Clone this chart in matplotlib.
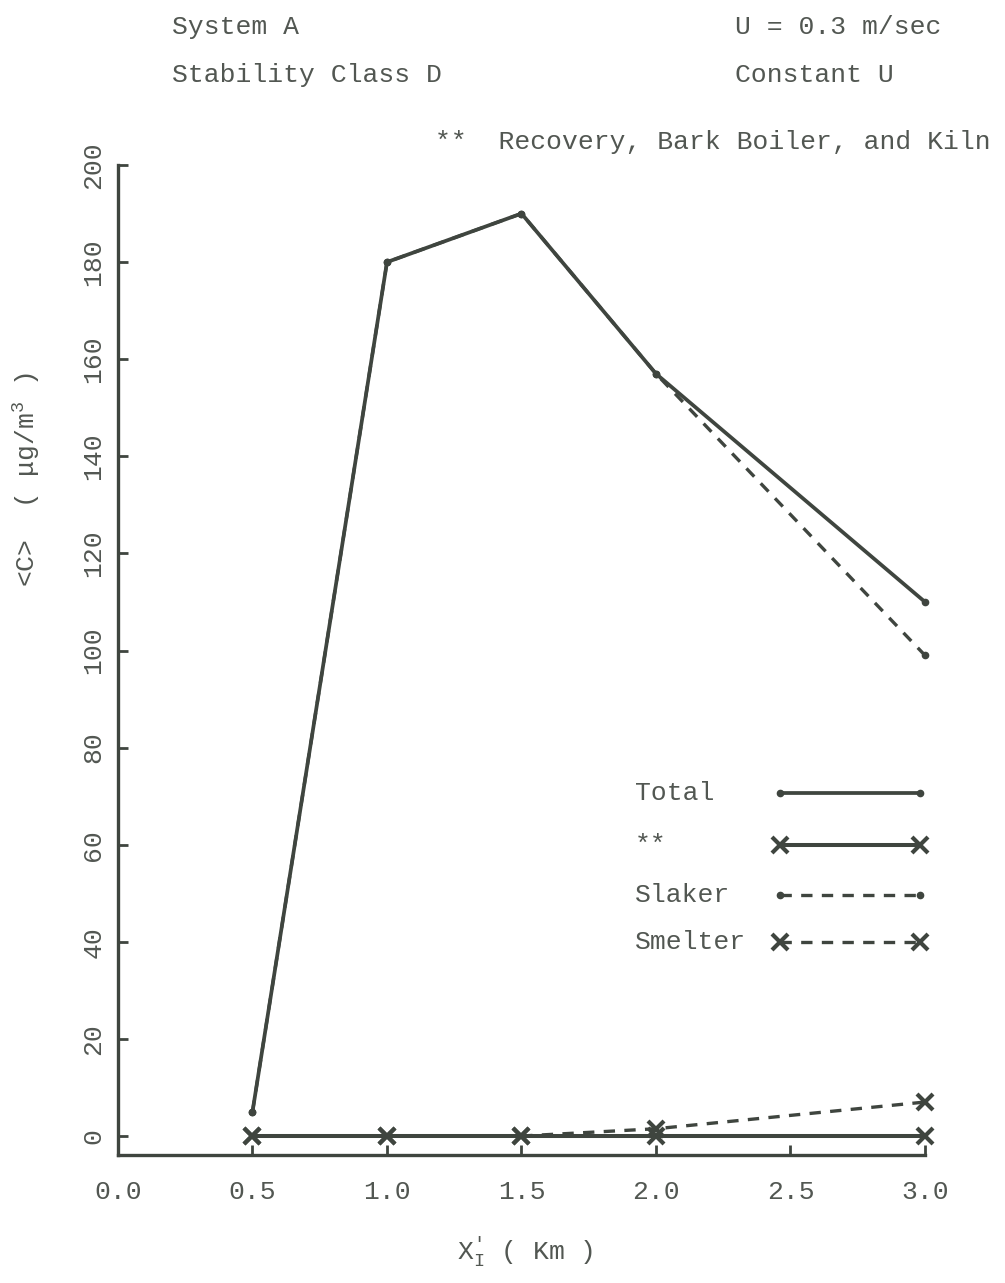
import matplotlib

matplotlib.use("Agg")

import matplotlib.pyplot as plt

plt.rcParams["font.family"] = ["Liberation Mono", "DejaVu Sans Mono"]
plt.rcParams["mathtext.fontset"] = "custom"
plt.rcParams["mathtext.rm"] = "Liberation Mono"
plt.rcParams["mathtext.it"] = "Liberation Mono"

# downwind distance (km) and concentrations (ug/m^3)
distance_km = [0.5, 1.0, 1.5, 2.0, 3.0]
total = [5, 180, 190, 157, 110]
recovery_bark_kiln = [0, 0, 0, 0, 0]
slaker = [5, 180, 190, 157, 99]
smelter = [0, 0, 0, 1.5, 7]

x_ticks = [0.0, 0.5, 1.0, 1.5, 2.0, 2.5, 3.0]
y_ticks = [0, 20, 40, 60, 80, 100, 120, 140, 160, 180, 200]

INK = "#3f453f"
TEXT = "#525752"
FS = 19

fig = plt.figure(figsize=(10.05, 12.83), dpi=100)
ax = fig.add_axes([0.1174, 0.0998, 0.803, 0.7716])

dot_kw = dict(marker="o", markersize=4.5)
cross_kw = dict(marker="x", markersize=11, markeredgewidth=3)
dash = (3.4, 2.8)

# (label, values, style, zorder) - solid lines sit above the dashed ones
series = [
    ("Total", total, dict(linestyle="-", linewidth=2.7, **dot_kw), 4),
    ("**", recovery_bark_kiln, dict(linestyle="-", linewidth=2.9, **cross_kw), 4),
    ("Slaker", slaker, dict(linestyle="--", linewidth=2.4, dashes=dash, **dot_kw), 2),
    ("Smelter", smelter, dict(linestyle="--", linewidth=2.4, dashes=dash, **cross_kw), 2),
]

for label, values, style, z in series:
    ax.plot(distance_km, values, color=INK, clip_on=False, zorder=z, **style)

ax.set_xlim(0.0, 3.0)
ax.set_ylim(-3.9, 200)
ax.set_xticks(x_ticks)
ax.set_xticklabels([f"{v:.1f}" for v in x_ticks])
ax.set_yticks(y_ticks)
ax.set_yticklabels([str(v) for v in y_ticks], rotation=90, va="center")

for side in ("top", "right"):
    ax.spines[side].set_visible(False)
for side in ("left", "bottom"):
    ax.spines[side].set_color(INK)
    ax.spines[side].set_linewidth(2.4)

ax.tick_params(axis="both", direction="in", length=7, width=2, colors=INK,
               labelcolor=TEXT, labelsize=FS)
ax.tick_params(axis="x", pad=18)
ax.tick_params(axis="y", pad=9)

ax.set_xlabel(r"X$_{\mathrm{I}}^{\prime}$ ( Km )", fontsize=FS, color=TEXT)
ax.xaxis.set_label_coords(0.504, -0.081)
ax.set_ylabel(r"<C>  ( μg/m$^{3}$ )", fontsize=FS, color=TEXT)
ax.yaxis.set_label_coords(-0.094, 0.682)

# key drawn inside the axes: label on the left, line sample on the right
key_rows = [0.366, 0.313, 0.263, 0.215]
for (label, values, style, z), ky in zip(series, key_rows):
    ax.text(0.641, ky, label, transform=ax.transAxes, fontsize=FS,
            color=TEXT, va="center", ha="left")
    ax.plot([0.820, 0.994], [ky, ky], transform=ax.transAxes, color=INK,
            clip_on=False, **style)

fig.text(172 / 1005, 1 - 27 / 1283, "System A", fontsize=FS, color=TEXT, va="center")
fig.text(172 / 1005, 1 - 75 / 1283, "Stability Class D", fontsize=FS, color=TEXT, va="center")
fig.text(735 / 1005, 1 - 27 / 1283, "U = 0.3 m/sec", fontsize=FS, color=TEXT, va="center")
fig.text(735 / 1005, 1 - 75 / 1283, "Constant U", fontsize=FS, color=TEXT, va="center")
fig.text(435 / 1005, 1 - 142 / 1283, "**  Recovery, Bark Boiler, and Kiln",
         fontsize=FS, color=TEXT, va="center")

fig.savefig("out.png", dpi=100)
